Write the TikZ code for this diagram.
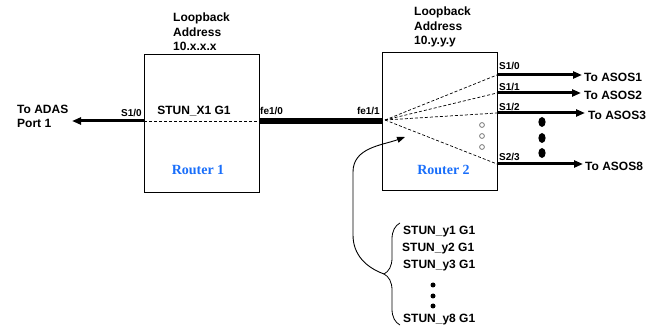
\documentclass[tikz,border=0pt]{standalone}
\usepackage{fontspec}
\setmainfont{Liberation Sans}
\newfontfamily\routerfont{Liberation Serif}
\usetikzlibrary{arrows.meta,decorations.pathreplacing}
\definecolor{routerblue}{RGB}{25,110,250}

\begin{document}
\begin{tikzpicture}[x=1pt, y=-1pt,
    router/.style={draw, line width=0.8pt, minimum width=115pt, minimum height=138pt, inner sep=0pt},
    lbl/.style={font=\fontsize{12}{14.5}\selectfont\bfseries, inner sep=0pt},
    port/.style={font=\fontsize{10}{12}\selectfont\bfseries, inner sep=0pt},
    rname/.style={font=\fontsize{14}{16}\selectfont\routerfont\bfseries, text=routerblue, inner sep=0pt},
    link/.style={line width=3pt, -{Triangle[length=9pt,width=7pt]}},
    virt/.style={dashed, dash pattern=on 3pt off 2pt, line width=0.7pt}]
  \useasboundingbox (0,0) rectangle (657,326);

  % routers
  \node[router] (r1) at (201.5,123) {};
  \node[router] (r2) at (439.5,121) {};
  \node[rname, anchor=base] (r1name) at (198,175) {Router 1};
  \node[rname, anchor=base] (r2name) at (443.5,175) {Router 2};

  % loopback addresses
  \node[lbl, anchor=base west, align=left] (lb1) at (173,51) {Loopback\\Address\\10.x.x.x};
  \node[lbl, anchor=base west, align=left] (lb2) at (414,45) {Loopback\\Address\\10.y.y.y};

  % router 1
  \coordinate (r1w) at (144,121);
  \coordinate (r1e) at (259,121);
  \coordinate (adas) at (72,121);
  \node[lbl, anchor=base west, align=left] (adastxt) at (17,128) {To ADAS\\Port 1};
  \node[port, anchor=base east] (s10) at (142,117) {S1/0};
  \node[lbl, anchor=base] (stunx) at (194,115) {STUN\_X1 G1};
  \node[port, anchor=base west] (fe10) at (260,115) {fe1/0};
  \draw[virt] (r1w) -- (r1e);
  \draw[link] (r1w) -- (adas);

  % trunk between routers
  \coordinate (r2w) at (382,121);
  \node[port, anchor=base east] (fe11) at (380,115) {fe1/1};
  \draw[line width=6pt] (r1e) -- (r2w);

  % router 2 fan out
  \coordinate (fan) at (385,120);
  \coordinate (p0) at (497,75);
  \coordinate (p1) at (497,93);
  \coordinate (p2) at (497,113);
  \coordinate (p3) at (497,164);
  \coordinate (a0) at (582,75);
  \coordinate (a1) at (581,93);
  \coordinate (a2) at (585,113);
  \coordinate (a3) at (583,164);
  \foreach \p in {p0,p1,p2,p3}
    \draw[virt] (fan) -- (\p);
  \draw[link] (p0) -- (a0);
  \draw[link] (p1) -- (a1);
  \draw[link] (p2) -- (a2);
  \draw[link] (p3) -- (a3);
  \node[port, anchor=base west] (s20) at (499,70) {S1/0};
  \node[port, anchor=base west] (s21) at (499,91) {S1/1};
  \node[port, anchor=base west] (s22) at (499,111) {S1/2};
  \node[port, anchor=base west] (s23) at (499,161) {S2/3};
  \node[lbl, anchor=west] (asos1) at (584,77) {To ASOS1};
  \node[lbl, anchor=west] (asos2) at (584,95) {To ASOS2};
  \node[lbl, anchor=west] (asos3) at (588,115) {To ASOS3};
  \node[lbl, anchor=west] (asos8) at (585,166) {To ASOS8};
  \foreach \y in {125,136,147}
    \draw[gray!80!black, line width=0.7pt] (482,\y) circle (2.4pt);
  \foreach \y in {122,138,153}
    \fill (542,\y) ellipse (3.6pt and 5pt);

  % stun list
  \node[lbl, anchor=base west] (y1) at (403,235) {STUN\_y1 G1};
  \node[lbl, anchor=base west] (y2) at (402,252) {STUN\_y2 G1};
  \node[lbl, anchor=base west] (y3) at (403,269) {STUN\_y3 G1};
  \node[lbl, anchor=base west] (y8) at (403,323) {STUN\_y8 G1};
  \foreach \y in {285,296,306}
    \fill (433,\y) circle (2.5pt);
  \draw[line width=0.8pt, decorate, decoration={brace, amplitude=16pt, aspect=0.5}] (400,325) -- (400,223);
  \coordinate (ytip) at (384,274);
  \coordinate (stunptr) at (405,137);
  \draw[line width=0.9pt, -{Triangle[length=8pt,width=6pt]}] (ytip) to[out=160,in=-90] (353,235) -- (353,172) to[out=90,in=200] (stunptr);
\end{tikzpicture}
\end{document}
